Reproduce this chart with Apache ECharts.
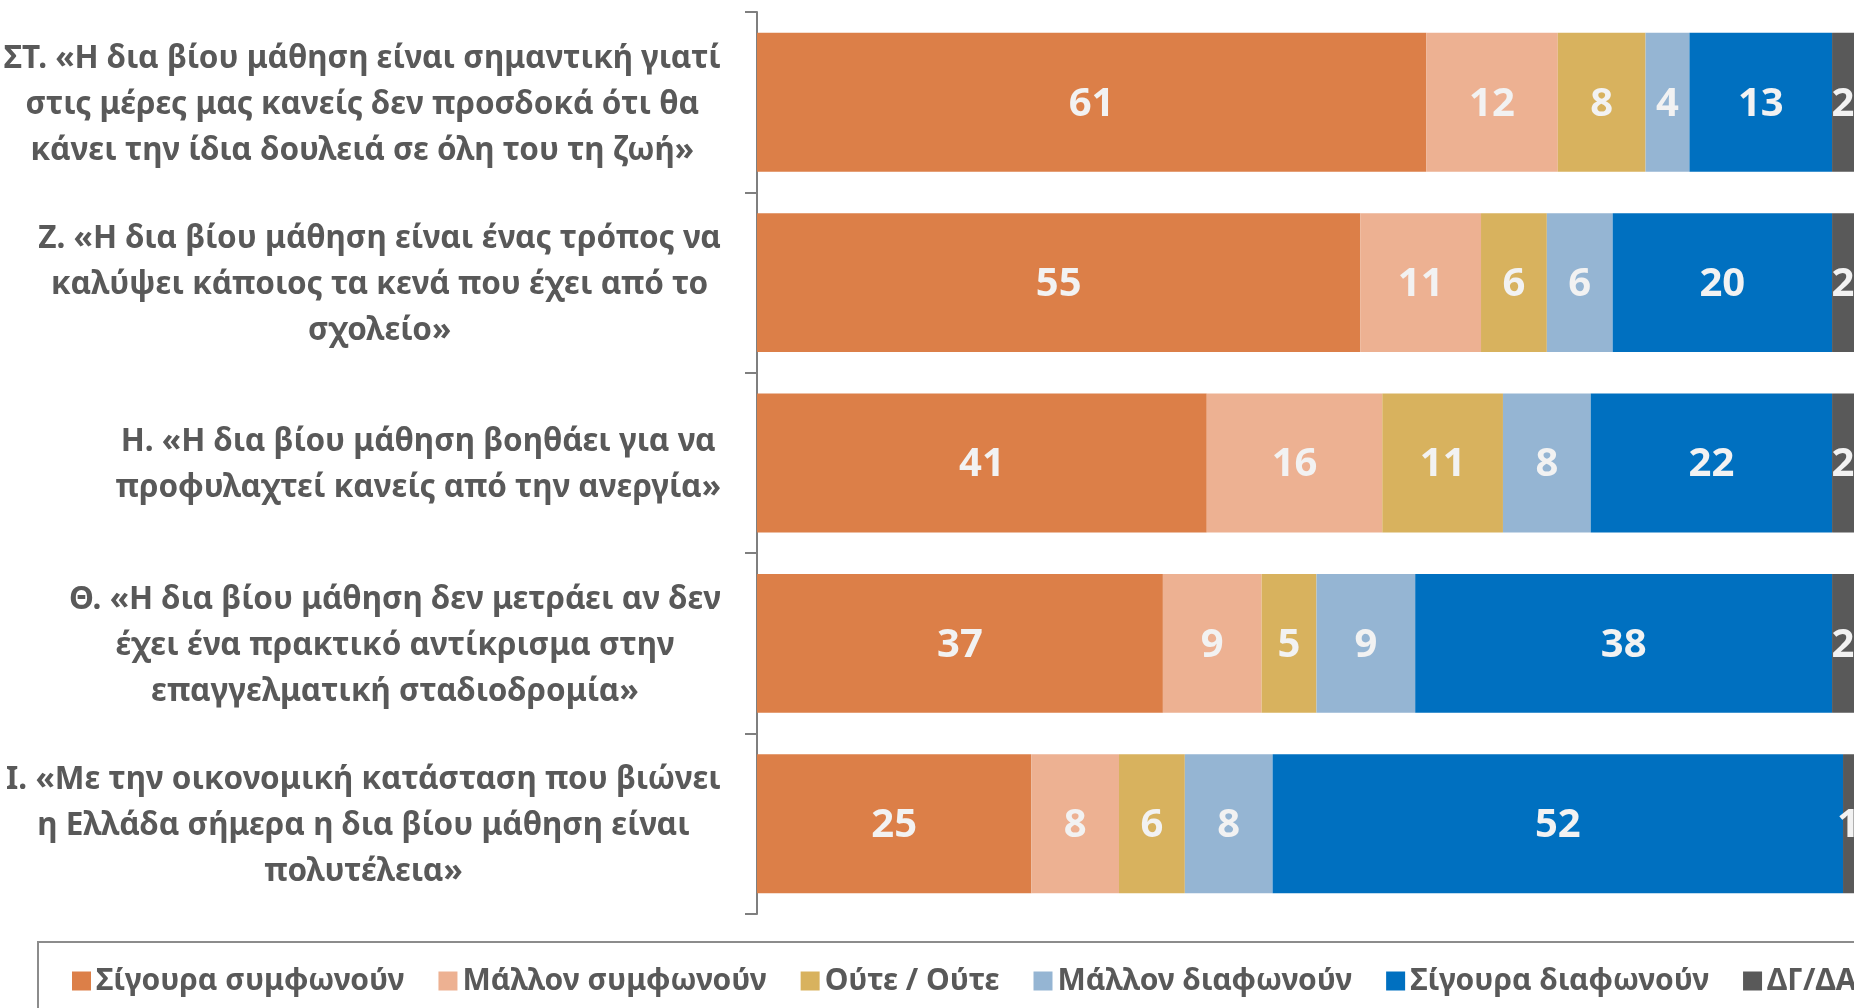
<!DOCTYPE html>
<html>
<head>
<meta charset="utf-8">
<script src="https://cdn.jsdelivr.net/npm/echarts@6/dist/echarts.min.js"></script>
<style>
html,body{margin:0;padding:0;background:#fff;}
#chart{width:1854px;height:1008px;}
</style>
</head>
<body>
<div id="chart"></div>
<script>
const categories = [
  "ΣΤ. «Η δια βίου μάθηση είναι σημαντική γιατί\nστις μέρες μας κανείς δεν προσδοκά ότι θα\nκάνει την ίδια δουλειά σε όλη του τη ζωή»",
  "Ζ. «Η δια βίου μάθηση είναι ένας τρόπος να\nκαλύψει κάποιος τα κενά που έχει από το\nσχολείο»",
  "Η. «Η δια βίου μάθηση βοηθάει για να\nπροφυλαχτεί κανείς από την ανεργία»",
  "Θ. «Η δια βίου μάθηση δεν μετράει αν δεν\nέχει ένα πρακτικό αντίκρισμα στην\nεπαγγελματική σταδιοδρομία»",
  "Ι. «Με την οικονομική κατάσταση που βιώνει\nη Ελλάδα σήμερα η δια βίου μάθηση είναι\nπολυτέλεια»"
];
const seriesNames = ["Σίγουρα συμφωνούν", "Μάλλον συμφωνούν", "Ούτε / Ούτε", "Μάλλον διαφωνούν", "Σίγουρα διαφωνούν", "ΔΓ/ΔΑ"];
const definitelyAgree = [61, 55, 41, 37, 25];
const ratherAgree = [12, 11, 16, 9, 8];
const neither = [8, 6, 11, 5, 6];
const ratherDisagree = [4, 6, 8, 9, 8];
const definitelyDisagree = [13, 20, 22, 38, 52];
const dkNa = [2, 2, 2, 2, 1];
const seriesValues = [definitelyAgree, ratherAgree, neither, ratherDisagree, definitelyDisagree, dkNa];
const colors = ["#DC7F48", "#EDB192", "#D8B25E", "#95B5D3", "#0070C0", "#595959"];

const FONT = "'Noto Sans', 'Open Sans', sans-serif";

const chart = echarts.init(document.getElementById('chart'), null, {renderer: 'canvas'});
chart.setOption({
  animation: false,
  color: colors,
  grid: {left: 757, right: 0, top: 12, bottom: 94, containLabel: false},
  xAxis: {type: 'value', min: 0, max: 100, show: false},
  yAxis: {
    type: 'category',
    inverse: true,
    data: categories,
    axisLine: {show: true, lineStyle: {color: '#7F7F7F', width: 2}},
    axisTick: {show: true, length: 12, lineStyle: {color: '#7F7F7F', width: 2}},
    axisLabel: {
      margin: 36,
      padding: [5, 0, 0, 0],
      formatter: function (v) {
        return v.split('\n').map(function (l) { return '{c|' + l + '}'; }).join('\n');
      },
      rich: {
        c: {align: 'center', fontSize: 31.5, fontWeight: 'bold', color: '#595959', lineHeight: 46, fontFamily: FONT}
      }
    }
  },
  legend: {
    data: seriesNames,
    left: 38,
    top: 942,
    width: 2400,
    orient: 'horizontal',
    icon: 'rect',
    itemWidth: 19,
    itemHeight: 19,
    itemGap: 34,
    padding: [24, 0, 60, 34],
    borderColor: '#8C8C8C',
    borderWidth: 2,
    textStyle: {fontSize: 30, fontWeight: 'bold', color: '#595959', fontFamily: FONT}
  },
  series: seriesNames.map(function (name, i) {
    return {
      name: name,
      type: 'bar',
      stack: 'total',
      barCategoryGap: '23%',
      data: seriesValues[i],
      itemStyle: {color: colors[i]},
      label: {
        show: true,
        position: 'inside',
        offset: [0, 2],
        color: '#F2F2F2',
        fontSize: 40,
        fontWeight: 'bold',
        fontFamily: FONT
      }
    };
  })
});
</script>
</body>
</html>
